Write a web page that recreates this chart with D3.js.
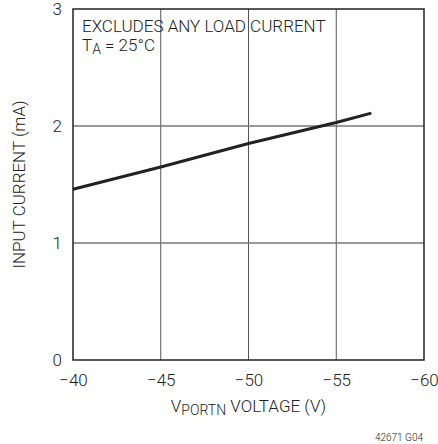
<!DOCTYPE html>
<html><head><meta charset="utf-8">
<script src="https://cdn.jsdelivr.net/npm/d3@7"></script>
<style>
body{margin:0;background:#fff;}
svg text{font-family:Roboto,"Liberation Sans",sans-serif;font-weight:300;fill:#222;}
</style></head><body>
<svg id="c" width="438" height="444"></svg>
<script>
const xTicks = [-40, -45, -50, -55, -60];
const yTicks = [0, 1, 2, 3];
const voltage = [-40, -45, -50, -55, -57];
const current = [1.46, 1.65, 1.85, 2.03, 2.11];

const svg = d3.select("#c");
const L = 73, R = 424, T = 9, B = 360;
const x = d3.scaleLinear().domain([-40, -60]).range([L, R]);
const y = d3.scaleLinear().domain([0, 3]).range([B, T]);
const FF = 'Roboto,"Liberation Sans",sans-serif';

// grid
const g = svg.append("g");
g.selectAll(".vg").data(xTicks.slice(1, -1)).enter().append("line")
  .attr("x1", d => x(d)).attr("x2", d => x(d)).attr("y1", T).attr("y2", B)
  .attr("stroke", "#555").attr("stroke-width", 1);
g.selectAll(".hg").data(yTicks.slice(1, -1)).enter().append("line")
  .attr("x1", L).attr("x2", R).attr("y1", d => y(d)).attr("y2", d => y(d))
  .attr("stroke", "#777").attr("stroke-width", 1.3);

// frame
svg.append("rect").attr("x", L).attr("y", T).attr("width", R - L).attr("height", B - T)
  .attr("fill", "none").attr("stroke", "#222").attr("stroke-width", 1.5);

const xAxis = svg.append("g").attr("transform", `translate(0,${B})`)
  .call(d3.axisBottom(x).tickValues(xTicks).tickSize(0).tickPadding(10).tickFormat(d => "\u2212" + Math.abs(d)));
xAxis.select(".domain").remove();
xAxis.selectAll("text").attr("font-size", 17).attr("dy", "0.95em")
  .attr("font-family", FF).attr("fill", "#222");

const yAxis = svg.append("g").attr("transform", `translate(${L},0)`)
  .call(d3.axisLeft(y).tickValues(yTicks).tickSize(0).tickPadding(11).tickFormat(d3.format("d")));
yAxis.select(".domain").remove();
yAxis.selectAll("text").attr("font-size", 17)
  .attr("font-family", FF).attr("fill", "#222");

// data line
svg.append("path").datum(voltage.map((v, i) => [v, current[i]]))
  .attr("d", d3.line().x(d => x(d[0])).y(d => y(d[1])))
  .attr("fill", "none").attr("stroke", "#222").attr("stroke-width", 3);

// annotations
svg.append("text").attr("x", 82).attr("y", 32).attr("font-size", 17).text("EXCLUDES ANY LOAD CURRENT");
const ta = svg.append("text").attr("x", 82).attr("y", 51).attr("font-size", 17);
ta.append("tspan").text("T");
ta.append("tspan").attr("font-size", 14).attr("dy", 3).text("A");
ta.append("tspan").attr("dy", -3).text(" = 25°C");

// x title
const xt = svg.append("text").attr("x", (L + R) / 2).attr("y", 412).attr("text-anchor", "middle").attr("font-size", 17);
xt.append("tspan").text("V");
xt.append("tspan").attr("font-size", 14).attr("dy", 3).text("PORTN");
xt.append("tspan").attr("dy", -3).text(" VOLTAGE (V)");

// y title
svg.append("text").attr("transform", `translate(25,${(T + B) / 2}) rotate(-90)`)
  .attr("text-anchor", "middle").attr("font-size", 17).text("INPUT CURRENT (mA)");

// figure id
svg.append("text").attr("x", 423).attr("y", 441).attr("text-anchor", "end").attr("font-size", 10).text("42671 G04");
</script>
</body></html>
